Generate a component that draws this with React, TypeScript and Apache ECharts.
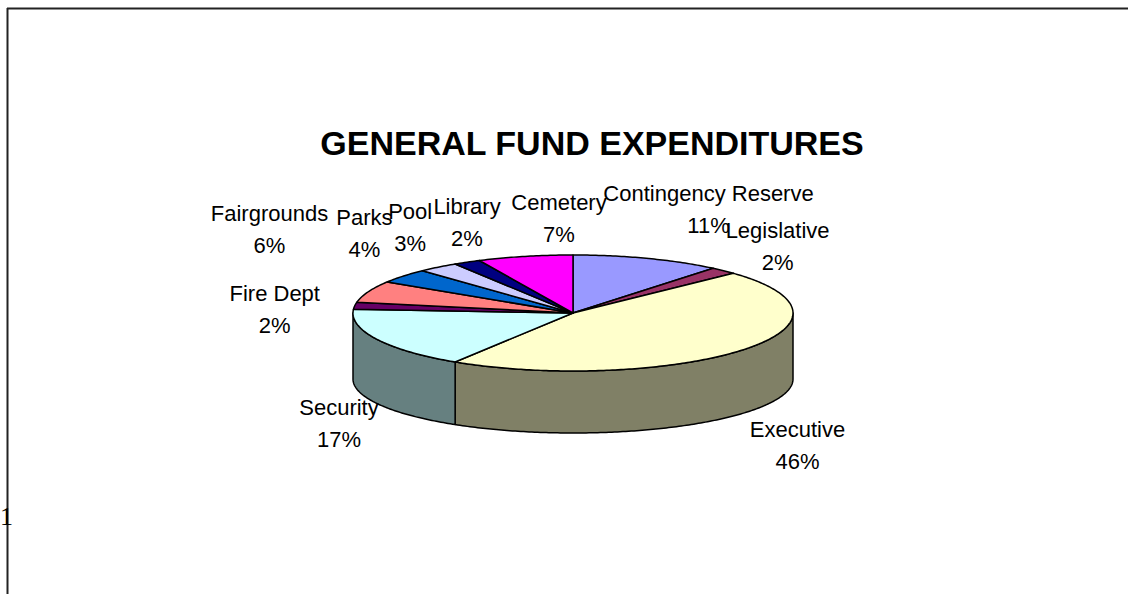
import React, { useEffect, useRef } from "react";
import * as echarts from "echarts";

// ---- data ----
const CATEGORIES = [
  "Contingency Reserve",
  "Legislative",
  "Executive",
  "Security",
  "Fire Dept",
  "Fairgrounds",
  "Parks",
  "Pool",
  "Library",
  "Cemetery",
];
const PERCENTS = [11, 2, 46, 17, 2, 6, 4, 3, 2, 7];
const COLORS = [
  "#9999FF",
  "#993366",
  "#FFFFCC",
  "#CCFFFF",
  "#660066",
  "#FF8080",
  "#0066CC",
  "#CCCCFF",
  "#000080",
  "#FF00FF",
];
const TITLE = "GENERAL FUND EXPENDITURES";

// ---- layout (label nudges relative to the slice's rim point) ----
const LABEL_OFFSETS: [number, number][] = [
  [61, -49],
  [54, -24],
  [55, 96],
  [-38, 84],
  [-80, 4],
  [-99, -62],
  [-39, -43],
  [-28, -40],
  [0, -40],
  [34, -38],
];

const CX = 573;
const CY = 313;
const RX = 220;
const RY = 58;
const CY_B = 379;
const RY_B = 54;

function darken(hex: string) {
  const n = parseInt(hex.slice(1), 16);
  const r = Math.round(((n >> 16) & 255) / 2);
  const g = Math.round(((n >> 8) & 255) / 2);
  const b = Math.round((n & 255) / 2);
  return "rgb(" + r + "," + g + "," + b + ")";
}

function rim(deg: number, cy: number, ry: number): number[] {
  const a = (deg * Math.PI) / 180;
  return [CX + RX * Math.sin(a), cy - ry * Math.cos(a)];
}

function arc(a0: number, a1: number, cy: number, ry: number): number[][] {
  const pts: number[][] = [];
  const steps = Math.max(2, Math.ceil(Math.abs(a1 - a0) / 0.75));
  for (let i = 0; i <= steps; i++) {
    pts.push(rim(a0 + ((a1 - a0) * i) / steps, cy, ry));
  }
  return pts;
}

export default function App() {
  const ref = useRef<HTMLDivElement>(null);
  useEffect(() => {
    if (!ref.current) return;
    const chart = echarts.init(ref.current, undefined, { renderer: "svg" });
    const total = PERCENTS.reduce((s, v) => s + v, 0);
    const starts: number[] = [];
    let acc = 0;
    PERCENTS.forEach((v) => {
      starts.push((acc / total) * 360);
      acc += v;
    });

    const renderItem = (params: any, api: any) => {
      const i = params.dataIndex;
      const v = api.value(0);
      const a0 = starts[i];
      const a1 = a0 + (v / total) * 360;
      const children: any[] = [];
      // outer wall (front half only)
      const w0 = Math.max(a0, 90);
      const w1 = Math.min(a1, 270);
      if (w1 > w0) {
        const top = arc(w0, w1, CY, RY);
        const bot = arc(w1, w0, CY_B, RY_B);
        children.push({
          type: "polygon",
          shape: { points: top.concat(bot) },
          style: {
            fill: darken(COLORS[i]),
            stroke: "#000",
            lineWidth: 1.5,
            lineJoin: "round",
          },
        });
      }
      // top face
      const face = [[CX, CY]].concat(arc(a0, a1, CY, RY));
      children.push({
        type: "polygon",
        shape: { points: face },
        style: {
          fill: COLORS[i],
          stroke: "#000",
          lineWidth: 1.5,
          lineJoin: "round",
        },
      });
      // label
      const mid = (a0 + a1) / 2;
      const p = rim(mid, CY, RY);
      const off = LABEL_OFFSETS[i];
      children.push({
        type: "text",
        x: p[0] + off[0],
        y: p[1] + off[1],
        z2: 10,
        style: {
          text: CATEGORIES[i] + "\n" + Math.round((v / total) * 100) + "%",
          fill: "#000",
          fontSize: 22,
          fontFamily: "Liberation Sans, Arial, sans-serif",
          lineHeight: 32,
          align: "center",
          verticalAlign: "middle",
          textAlign: "center",
          textVerticalAlign: "middle",
        },
      });
      return { type: "group", children };
    };

    chart.setOption({
      animation: false,
      backgroundColor: "#fff",
      title: {
        text: TITLE,
        left: 587,
        top: 121,
        textAlign: "center",
        textStyle: {
          fontSize: 34,
          fontWeight: "bold",
          fontFamily: "Liberation Sans, Arial, sans-serif",
          color: "#000",
        },
      },
      graphic: [
        {
          type: "line",
          shape: { x1: 7, y1: 8.5, x2: 1128, y2: 8.5 },
          style: { stroke: "#222", lineWidth: 2 },
        },
        {
          type: "line",
          shape: { x1: 7.5, y1: 8, x2: 7.5, y2: 594 },
          style: { stroke: "#222", lineWidth: 2 },
        },
        {
          type: "text",
          x: 0,
          y: 516,
          z: 10,
          style: {
            text: "1",
            fill: "#000",
            fontSize: 26,
            fontFamily: "Liberation Serif, serif",
            align: "left",
            verticalAlign: "middle",
            textAlign: "left",
            textVerticalAlign: "middle",
          },
        },
      ],
      series: [
        {
          type: "custom",
          coordinateSystem: "none",
          renderItem,
          data: PERCENTS.map((v, i) => ({ name: CATEGORIES[i], value: [v] })),
        },
      ],
    });
    return () => chart.dispose();
  }, []);
  return (
    <div
      ref={ref}
      style={{ position: "fixed", left: 0, top: 0, width: 1128, height: 594 }}
    />
  );
}
